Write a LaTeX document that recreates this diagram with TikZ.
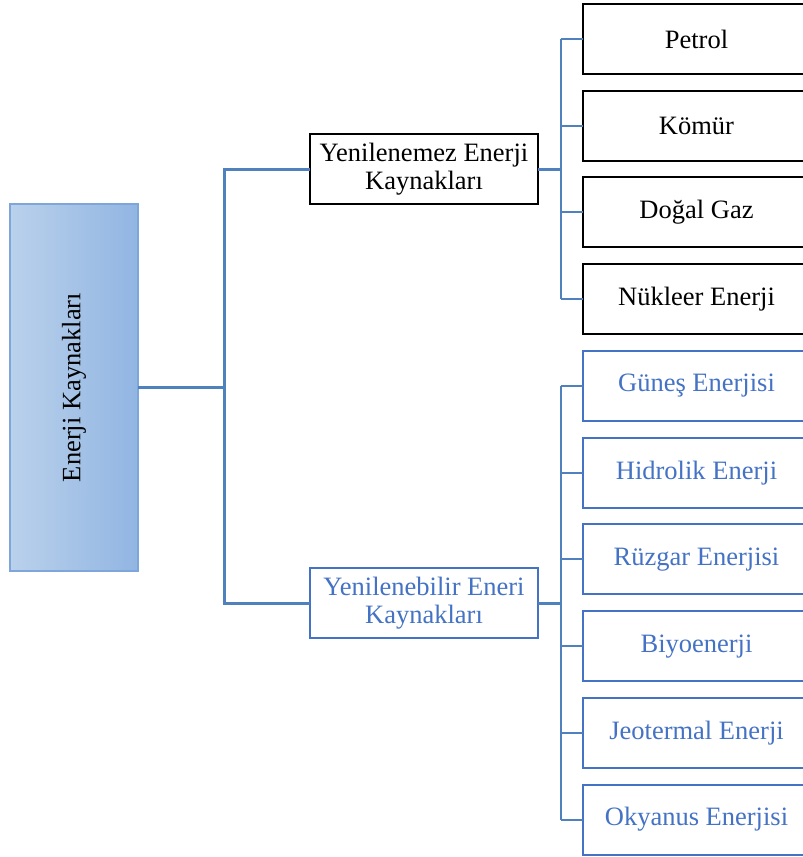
\documentclass[tikz,border=0pt]{standalone}
\usepackage{fontspec}
\setmainfont{Liberation Serif}
\usepackage{xcolor}
\usepackage{tikz}
\usetikzlibrary{positioning, calc}
\definecolor{linkblue}{HTML}{4F81BD}
\definecolor{textblue}{HTML}{4472C4}
\definecolor{rootlight}{HTML}{BAD1EB}
\definecolor{rootdark}{HTML}{91B5E2}
\definecolor{rootedge}{HTML}{7EA6DA}

\begin{document}
\begin{tikzpicture}[
    x=1pt, y=-1pt,
    node distance=16.7pt and 45pt,
    rootbox/.style={
        draw=rootedge, line width=1.2pt,
        left color=rootlight, right color=rootdark,
        rectangle, minimum width=128pt, minimum height=367pt,
        inner sep=0pt, outer sep=0pt,
    },
    groupbox/.style={
        draw, line width=1.5pt, fill=white,
        rectangle, minimum width=228pt, minimum height=70pt,
        inner sep=2pt, outer sep=0pt, align=center,
        font=\fontsize{26.5}{27.5}\selectfont,
    },
    leafbox/.style={
        draw, line width=2pt, fill=white,
        rectangle, minimum width=227pt, minimum height=70pt,
        inner sep=2pt, outer sep=0pt, align=center,
        font=\fontsize{26.5}{27.5}\selectfont,
    },
    blueset/.style={draw=textblue, text=textblue},
    trunk/.style={draw=linkblue, line width=3pt},
    twig/.style={draw=linkblue, line width=2pt},
]
\clip (0,0) rectangle (803,857);

% Root
\node[rootbox] (root) at (74,387.5) {\rotatebox{90}{\fontsize{26.5}{27.5}\selectfont Enerji Kaynakları}};

% Groups
\node[groupbox] (nonren) at (424,169) {Yenilenemez Enerji\\Kaynakları};
\node[groupbox, blueset] (ren) at (424,603) {Yenilenebilir Eneri\\Kaynakları};

% Non-renewable sources
\node[leafbox] (petrol) at (696.5,39) {Petrol};
\node[leafbox, below=of petrol] (komur) {Kömür};
\node[leafbox, below=of komur] (dogal) {Doğal Gaz};
\node[leafbox, below=of dogal] (nukleer) {Nükleer Enerji};

% Renewable sources
\node[leafbox, blueset] (gunes) at (696.5,386) {Güneş Enerjisi};
\node[leafbox, blueset, below=of gunes] (hidro) {Hidrolik Enerji};
\node[leafbox, blueset, below=of hidro] (ruzgar) {Rüzgar Enerjisi};
\node[leafbox, blueset, below=of ruzgar] (biyo) {Biyoenerji};
\node[leafbox, blueset, below=of biyo] (jeo) {Jeotermal Enerji};
\node[leafbox, blueset, below=of jeo] (okyanus) {Okyanus Enerjisi};

% Connectors
\coordinate (split) at ($(root.east)!0.5!(root.east -| nonren.west)$);
\draw[trunk] (root.east) -- (split);
\draw[trunk] (nonren.west) -| (split) |- (ren.west);

\coordinate (nsplit) at ($(nonren.east)!0.5!(nonren.east -| petrol.west)$);
\draw[trunk] (nonren.east) -- (nsplit);
\draw[twig] (nsplit |- petrol.west) -- (nsplit |- nukleer.west);
\foreach \n in {petrol, komur, dogal, nukleer}
    \draw[twig] (nsplit |- \n.west) -- (\n.west);

\coordinate (rsplit) at ($(ren.east)!0.5!(ren.east -| gunes.west)$);
\draw[trunk] (ren.east) -- (rsplit);
\draw[twig] (rsplit |- gunes.west) -- (rsplit |- okyanus.west);
\foreach \n in {gunes, hidro, ruzgar, biyo, jeo, okyanus}
    \draw[twig] (rsplit |- \n.west) -- (\n.west);

\end{tikzpicture}
\end{document}
